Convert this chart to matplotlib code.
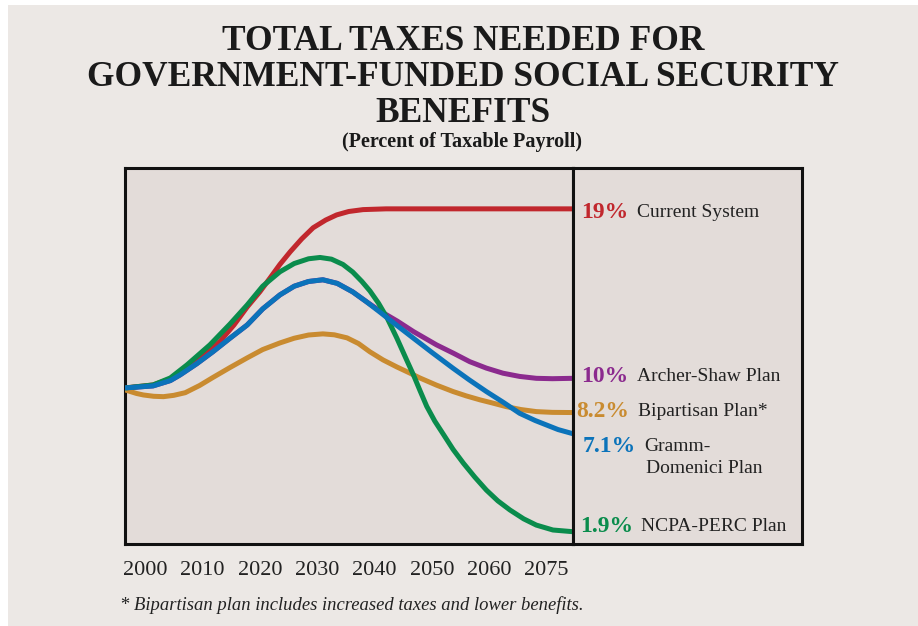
import matplotlib
matplotlib.use("Agg")
import matplotlib.pyplot as plt
from matplotlib.patches import Rectangle

# x is measured in tick slots: 0 = 2000, 1 = 2010, ... 7 = 2075
tick_labels = ["2000", "2010", "2020", "2030", "2040", "2050", "2060", "2075"]

current_x = [-0.35, 0.14, 0.44, 0.73, 1.00, 1.31, 1.55, 1.78, 2.00, 2.18, 2.35, 2.53, 2.73, 2.93,
             3.15, 3.34, 3.55, 3.80, 4.20, 7.46]
current_y = [9.47, 9.63, 9.95, 10.58, 11.15, 11.95, 12.80, 13.75, 14.55, 15.29, 16.00, 16.67, 17.35, 17.94,
             18.35, 18.62, 18.80, 18.90, 18.94, 18.94]

ncpa_x = [-0.35, 0.14, 0.44, 0.73, 1.13, 1.48, 1.78, 2.05, 2.35, 2.60, 2.85, 3.05, 3.25, 3.45, 3.62,
          3.78, 3.92, 4.07, 4.22, 4.39, 4.56, 4.68, 4.79, 4.91, 5.05, 5.20, 5.37, 5.55, 5.75, 5.95,
          6.15, 6.36, 6.60, 6.82, 7.11, 7.46]
ncpa_y = [9.47, 9.63, 10.00, 10.69, 11.75, 12.85, 13.86, 14.85, 15.61, 16.05, 16.30, 16.37, 16.28, 16.00, 15.60,
          15.10, 14.60, 13.95, 13.17, 12.10, 10.95, 10.15, 9.35, 8.50, 7.72, 7.02, 6.22, 5.49, 4.75, 4.07,
          3.50, 3.02, 2.55, 2.22, 1.96, 1.87]

gramm_x = [-0.35, 0.14, 0.44, 0.61, 0.90, 1.18, 1.48, 1.78, 2.05, 2.35, 2.60, 2.85, 3.10, 3.35, 3.62,
           3.85, 4.09, 4.38, 4.67, 5.00, 5.37, 5.65, 5.95, 6.25, 6.53, 6.80, 7.00, 7.20, 7.46]
gramm_y = [9.47, 9.58, 9.86, 10.16, 10.75, 11.38, 12.10, 12.80, 13.65, 14.39, 14.85, 15.10, 15.19, 15.00, 14.55,
           14.05, 13.49, 12.80, 12.12, 11.35, 10.51, 9.90, 9.28, 8.70, 8.13, 7.75, 7.51, 7.27, 7.05]

archer_x = [-0.35, 0.14, 0.44, 0.61, 0.90, 1.18, 1.48, 1.78, 2.05, 2.35, 2.60, 2.85, 3.10, 3.35, 3.62,
            3.85, 4.09, 4.40, 4.68, 5.08, 5.38, 5.66, 5.95, 6.24, 6.53, 6.82, 7.10, 7.46]
archer_y = [9.47, 9.58, 9.86, 10.16, 10.75, 11.38, 12.10, 12.80, 13.65, 14.39, 14.85, 15.10, 15.19, 15.00, 14.55,
            14.05, 13.55, 13.00, 12.45, 11.75, 11.30, 10.86, 10.52, 10.25, 10.08, 9.98, 9.96, 9.98]

bipart_x = [-0.35, -0.15, -0.03, 0.15, 0.32, 0.50, 0.70, 0.95, 1.18, 1.48, 1.78, 2.05, 2.35, 2.60, 2.85,
            3.10, 3.30, 3.52, 3.72, 3.92, 4.15, 4.39, 4.60, 4.79, 5.08, 5.37, 5.60, 5.84, 6.05, 6.30,
            6.55, 6.82, 7.10, 7.46]
bipart_y = [9.37, 9.18, 9.10, 9.03, 9.01, 9.08, 9.22, 9.60, 10.02, 10.55, 11.06, 11.50, 11.85, 12.10, 12.27,
            12.33, 12.28, 12.12, 11.82, 11.38, 10.95, 10.58, 10.28, 10.00, 9.62, 9.28, 9.05, 8.84, 8.68, 8.48,
            8.33, 8.22, 8.18, 8.17]

end_pcts = ["19%", "10%", "8.2%", "7.1%", "1.9%"]
end_names = ["Current System", "Archer-Shaw Plan", "Bipartisan Plan*", "Gramm-\nDomenici Plan", "NCPA-PERC Plan"]

RED = "#c1272d"
GREEN = "#0a8c4c"
BLUE = "#0b73ba"
PURPLE = "#8b2a8e"
GOLD = "#c98b30"
BG = "#ece8e5"
PANEL = "#e3dcd9"
SERIF = "Liberation Serif"

fig = plt.figure(figsize=(9.18, 6.26), dpi=100, facecolor="white")
fig.patches.append(Rectangle((8 / 918, 0), 1, 1 - 5 / 626, transform=fig.transFigure,
                             facecolor=BG, edgecolor="none", zorder=-10))

ax = fig.add_axes([125 / 918, 82 / 626, 448 / 918, 376 / 626])
ax.set_facecolor(PANEL)
style = dict(lw=3.6, solid_capstyle="butt", solid_joinstyle="round")
ax.plot(current_x, current_y, color=RED, zorder=3, **style)
ax.plot(archer_x, archer_y, color=PURPLE, zorder=3, **style)
ax.plot(bipart_x, bipart_y, color=GOLD, zorder=3, **style)
ax.plot(ncpa_x, ncpa_y, color=GREEN, zorder=4, **style)
ax.plot(gramm_x, gramm_y, color=BLUE, zorder=5, **style)
ax.set_xlim(-0.35, 7.46)
ax.set_ylim(1.22, 21.1)
ax.set_yticks([])
ax.set_xticks(range(len(tick_labels)))
ax.set_xticklabels(tick_labels, fontsize=16, family=SERIF, color="#222222")
ax.tick_params(axis="x", length=0, pad=12)
for s in ax.spines.values():
    s.set_linewidth(2.2)
    s.set_color("#111111")

# right-hand label panel
ax2 = fig.add_axes([573 / 918, 82 / 626, 229 / 918, 376 / 626])
ax2.set_facecolor(PANEL)
ax2.set_xlim(0, 1)
ax2.set_ylim(1.22, 21.1)
ax2.set_xticks([])
ax2.set_yticks([])
for s in ax2.spines.values():
    s.set_linewidth(2.2)
    s.set_color("#111111")

label_colors = [RED, PURPLE, GOLD, BLUE, GREEN]
label_y = [18.73, 10.1, 8.2, 6.35, 2.12]
pct_x = [0.035, 0.035, 0.013, 0.040, 0.031]
name_x = [0.279, 0.279, 0.284, 0.310, 0.297]
for pct, name, c, y, px, nx in zip(end_pcts, end_names, label_colors, label_y, pct_x, name_x):
    ax2.text(px, y, pct, color=c, fontsize=17, fontweight="bold", family=SERIF,
             ha="left", va="center")
    if "\n" in name:
        top, bottom = name.split("\n")
        ax2.text(nx, y, top, color="#222222", fontsize=14, family=SERIF, ha="left", va="center")
        ax2.text(nx + 0.009, y - 1.12, bottom, color="#222222", fontsize=14, family=SERIF,
                 ha="left", va="center")
    else:
        ax2.text(nx, y, name, color="#222222", fontsize=14, family=SERIF, ha="left", va="center")

# titles
title_lines = ["TOTAL TAXES NEEDED FOR", "GOVERNMENT-FUNDED SOCIAL SECURITY", "BENEFITS"]
for i, line in enumerate(title_lines):
    fig.text(463 / 918, 1 - (42 + 35.5 * i) / 626, line, ha="center", va="center",
             fontsize=25.5, fontweight="bold", family=SERIF, color="#1a1a1a")
fig.text(462 / 918, 1 - 142 / 626, "(Percent of Taxable Payroll)", ha="center", va="center",
         fontsize=14.5, fontweight="bold", family=SERIF, color="#1a1a1a")

fig.text(120 / 918, 1 - 605 / 626, "* Bipartisan plan includes increased taxes and lower benefits.",
         ha="left", va="center", fontsize=13.4, style="italic", family=SERIF, color="#222222")

fig.savefig("out.png", dpi=100, facecolor=fig.get_facecolor())
